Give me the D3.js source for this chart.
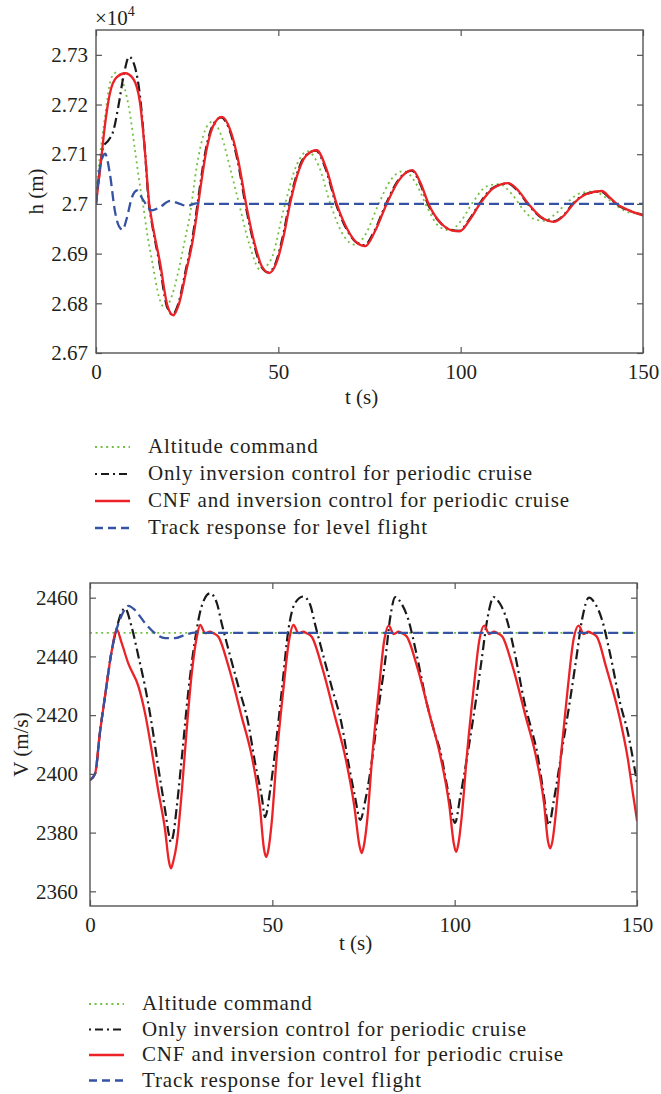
<!DOCTYPE html>
<html>
<head>
<meta charset="utf-8">
<script src="https://cdn.jsdelivr.net/npm/d3@7"></script>
<style>
body { margin: 0; background: #fff; }
svg text { font-family: "Liberation Serif", "Times New Roman", serif; fill: #231f20; }
</style>
</head>
<body>
<svg id="chart" width="661" height="1094"></svg>
<script>
// legend entries (same order in both panels)
var seriesNames = [
  "Altitude command",
  "Only inversion control for periodic cruise",
  "CNF and inversion control for periodic cruise",
  "Track response for level flight"
];

var tTicks = [0, 50, 100, 150];
var hTicks = [26700, 26800, 26900, 27000, 27100, 27200, 27300];
var vTicks = [2360, 2380, 2400, 2420, 2440, 2460];

// ---- h (m) panel: [t, h]
var hCommand = [[0,27030],[2,27150],[4.3,27255],[5.7,27265],[7.5,27242],[9.3,27182],[10.7,27108],[12.1,27034],
  [13,26994],[13.9,26947],[15.5,26880],[17.3,26812],[18.7,26792],[20.3,26805],[22.5,26862],[24.3,26925],[25.8,26980],
  [27.6,27074],[29.9,27148],[31.8,27165],[34.5,27135],[36.7,27074],[39,27007],[42,26920],[45,26868],[48,26888],
  [51.5,26990],[55,27078],[58,27106],[61,27078],[64.5,26995],[68,26935],[71,26918],[74,26940],[77.5,27000],
  [81,27050],[84.3,27066],[88,27038],[91,26990],[94,26955],[97,26947],[100,26965],[103.5,27005],[107,27035],
  [110.5,27040],[114,27020],[117,26990],[120,26970],[123,26966],[126,26980],[129.5,27005],[133,27022],
  [136.5,27025],[140,27012],[143,26995],[146.5,26982],[150,26980]];

var hInversion = [[0,27000],[1,27065],[2,27115],[3.4,27128],[4.8,27148],[6.1,27195],[7.5,27255],[9.1,27296],
  [10.7,27275],[12.1,27215],[13.4,27108],[14.5,27000],[15.2,26967],[17.4,26880],[19.4,26795],[21,26777],
  [22.6,26800],[24.7,26870],[26,26913],[27.2,26967],[28.6,27040],[30,27105],[32,27158],[34.3,27174],[36.5,27151],
  [38.8,27088],[41.1,26994],[43.3,26920],[45.3,26874],[47.3,26862],[49.3,26882],[51.3,26937],[53,27000],
  [55,27058],[57.4,27097],[60.3,27107],[63,27070],[65.8,27000],[68.8,26948],[71.3,26923],[73.6,26917],
  [76.3,26945],[79.5,27000],[82.8,27047],[86.6,27067],[88.8,27042],[91,27000],[94.3,26963],[97.3,26948],
  [99.6,26946],[102.3,26968],[105.1,27000],[108.8,27032],[112.9,27041],[115.8,27025],[118.4,27000],
  [121.8,26974],[125.4,26965],[128.3,26978],[130.7,27000],[134.3,27020],[138.5,27025],[140.8,27012],
  [142.6,27000],[146.3,26986],[150,26978]];

var hCnf = [[0,27000],[1.1,27068],[2.5,27161],[3.8,27222],[5.7,27255],[8,27263],[10.2,27252],[12.1,27202],
  [13.4,27108],[14.6,27000],[15.3,26967],[17.6,26880],[19.6,26795],[21.2,26776],[22.8,26800],[24.9,26870],
  [26.2,26913],[27.4,26967],[28.8,27040],[30.2,27105],[32.2,27158],[34.5,27175],[36.7,27151],[39,27088],
  [41.3,26994],[43.5,26920],[45.5,26874],[47.5,26861],[49.5,26882],[51.5,26937],[53.2,27000],[55.2,27058],
  [57.6,27097],[60.5,27108],[63.2,27070],[66,27000],[69,26948],[71.5,26922],[73.8,26915],[76.5,26945],
  [79.7,27000],[83,27047],[86.8,27068],[89,27042],[91.2,27000],[94.5,26962],[97.5,26947],[99.8,26945],
  [102.5,26968],[105.3,27000],[109,27032],[113.1,27042],[116,27025],[118.6,27000],[122,26974],[125.6,26964],
  [128.5,26978],[130.9,27000],[134.5,27020],[138.7,27026],[141,27012],[142.8,27000],[146.5,26986],[150,26977]];

var hLevel = [[0,27000],[1.1,27074],[2.5,27101],[3.8,27061],[5.2,26985],[6.3,26955],[7.3,26948],[8.4,26970],
  [9.8,27012],[11.2,27027],[13,27007],[15.3,26987],[17.6,26994],[20.3,27006],[23,27000],[24.9,26996],
  [27.6,27001],[30,27000],[150,27000]];

// ---- V (m/s) panel: [t, V]
var vCommand = [[0,2448],[150,2448]];

var vInversion = [[0,2397.9],[1.4,2400.1],[2.7,2413.8],[4.1,2426.3],[6,2442.2],[7.3,2449.5],[8.7,2455.2],
  [9.6,2456.4],[11.4,2450.1],[13.3,2439.9],[15.1,2429.7],[16.9,2417.2],[18.7,2402.4],[20.6,2387.6],
  [21.6,2379.5],[22.2,2376.8],[22.8,2379],[23.8,2388.8],[25.2,2405.8],[27,2428.5],[28.8,2445.6],[30.6,2457],
  [32.9,2461.5],[34.8,2458.1],[36.1,2451.3],[38,2442.2],[40.7,2429.7],[43.4,2417.2],[45.3,2403.5],
  [47.1,2392.2],[48,2385.3],[49.4,2394.4],[50.8,2408.1],[52.6,2428.5],[54.4,2449],[56.2,2458.1],[58.5,2460.4],
  [60.4,2457.5],[61.7,2451],[63.6,2442],[66.3,2429.5],[69,2417],[70.9,2403.5],[72.7,2392],[74.1,2384.3],
  [75.5,2391],[77.7,2408],[79.3,2424],[80.9,2438],[82.3,2453],[83.7,2460.2],[85.4,2458],[87.3,2452.5],
  [89.5,2441],[92.4,2423.8],[94.5,2414],[96,2408],[98.2,2394],[100.1,2383.3],[101.5,2392],[103.7,2408],
  [105.7,2424],[107.3,2438],[109,2453],[110.7,2460.2],[112.4,2458],[114.3,2452.5],[116.5,2441],[119.2,2424],
  [121.3,2414],[122.5,2408],[124.3,2394],[125.8,2382.5],[127.2,2391],[129.4,2408],[131.5,2424],[133.2,2438],
  [135,2453],[136.8,2460],[138.5,2458],[140.4,2452.5],[142.6,2441],[145.4,2424],[147.5,2414],[150,2397]];

var vCnf = [[0,2397.9],[1.4,2400.1],[2.7,2413.8],[4.1,2426.3],[6,2442.2],[7.3,2449.2],[8.7,2444.5],
  [10.5,2437.6],[13.3,2429.7],[15.1,2420.6],[16.9,2408.1],[18.7,2394.4],[20.6,2380.8],[21.6,2370.5],
  [22.2,2367.8],[22.8,2370],[23.8,2376.3],[25.2,2394.4],[26.5,2414.9],[27.9,2434.2],[29.3,2446.7],
  [30.2,2450.7],[31.6,2447.9],[32.9,2448.4],[33.8,2447.9],[35.2,2446.7],[38,2436.5],[41.6,2419.4],
  [44.4,2405.8],[46.6,2388.8],[47.7,2374.5],[48.3,2371.7],[48.9,2374],[49.8,2383.1],[51.2,2405.8],[53,2428.5],
  [54.6,2445.6],[55.8,2450.7],[57.2,2447.9],[58.5,2448.4],[59.4,2447.9],[60.8,2446.7],[63.6,2436.5],
  [67.2,2419.4],[70,2405.8],[72.5,2388.8],[73.9,2375.5],[74.5,2373],[75.1,2375.5],[76,2384],[77.4,2406],
  [79.2,2428.5],[80.7,2445.6],[81.9,2450.5],[83.3,2447.6],[84.6,2448.4],[85.5,2447.9],[86.9,2446.7],
  [89.7,2436.5],[93.3,2419.4],[96,2406.5],[98.5,2389.5],[99.8,2376],[100.4,2373.4],[101,2376],[101.9,2385],
  [103.4,2407],[105.2,2429],[106.8,2445.8],[108.1,2450.5],[109.5,2447.6],[110.8,2448.4],[111.7,2447.9],
  [113.1,2446.7],[115.9,2436.5],[119.5,2419.4],[122.2,2406.5],[124.5,2390],[125.6,2377],[126.2,2374.6],
  [126.8,2377],[127.7,2386],[129.2,2407],[131,2429],[132.6,2445.8],[134,2450.5],[135.4,2447.6],[136.7,2448.4],
  [137.6,2447.9],[139,2446.7],[141.5,2436.5],[145.2,2419.4],[147.5,2405],[148.8,2394],[150,2384.2]];

var vLevel = [[0,2397.9],[1.4,2400.1],[2.7,2413.8],[4.1,2426.3],[6,2442.2],[7.3,2449.2],[8.7,2454],
  [10.5,2457.2],[12.3,2455.8],[15.1,2451.3],[17.8,2447.9],[20.6,2446.2],[23.3,2446.2],[26,2447.3],
  [28.8,2448.1],[32,2448],[150,2448]];

// line styles, matlab-ish
var styles = [
  {color: "#74c043", width: 1.8, dash: "2,3.6", cap: "butt"},
  {color: "#1a1a1a", width: 2.2, dash: "10,4,2,4", cap: "butt"},
  {color: "#ec2227", width: 2.3, dash: null, cap: "round"},
  {color: "#3653a3", width: 2.3, dash: "10,5", cap: "butt"}
];

var svg = d3.select("#chart");
var axisColor = "#555";
var fs = 21;

function panel(cfg) {
  var x = d3.scaleLinear().domain([0, 150]).range([cfg.left, cfg.right]);
  var y = d3.scaleLinear().domain(cfg.yDomain).range([cfg.bottom, cfg.top]);
  var g = svg.append("g");

  var clipId = "clip" + cfg.id;
  g.append("clipPath").attr("id", clipId).append("rect")
    .attr("x", cfg.left).attr("y", cfg.top)
    .attr("width", cfg.right - cfg.left).attr("height", cfg.bottom - cfg.top);

  var line = d3.line()
    .x(d => x(d[0]))
    .y(d => y(d[1]))
    .curve(d3.curveMonotoneX);

  var lines = g.append("g").attr("clip-path", "url(#" + clipId + ")");
  cfg.series.forEach(function(s, i) {
    var st = styles[i];
    lines.append("path")
      .datum(s)
      .attr("d", line)
      .attr("fill", "none")
      .attr("stroke", st.color)
      .attr("stroke-width", st.width)
      .attr("stroke-linecap", st.cap)
      .attr("stroke-linejoin", "round")
      .attr("stroke-dasharray", st.dash);
  });

  // axes, ticks pointing in, with box
  var bottomAx = g.append("g").attr("transform", "translate(0," + cfg.bottom + ")")
    .call(d3.axisBottom(x).tickValues(tTicks).tickSize(-6).tickPadding(11).tickFormat(d3.format("d")));
  var topAx = g.append("g").attr("transform", "translate(0," + cfg.top + ")")
    .call(d3.axisTop(x).tickValues(tTicks).tickSize(-6).tickFormat(""));
  var leftAx = g.append("g").attr("transform", "translate(" + cfg.left + ",0)")
    .call(d3.axisLeft(y).tickValues(cfg.yTicks).tickSize(-6).tickPadding(cfg.yPad).tickFormat(cfg.yFormat));
  var rightAx = g.append("g").attr("transform", "translate(" + cfg.right + ",0)")
    .call(d3.axisRight(y).tickValues(cfg.yTicks).tickSize(-6).tickFormat(""));

  [bottomAx, topAx, leftAx, rightAx].forEach(function(a) {
    a.select(".domain").remove();
    a.selectAll(".tick line").attr("stroke", axisColor).attr("stroke-width", 1.2);
    a.selectAll("text").attr("font-size", fs).attr("font-family", null).attr("fill", "#231f20");
  });
  g.append("rect")
    .attr("x", cfg.left).attr("y", cfg.top)
    .attr("width", cfg.right - cfg.left).attr("height", cfg.bottom - cfg.top)
    .attr("fill", "none").attr("stroke", axisColor).attr("stroke-width", 1.4);

  g.append("text")
    .attr("x", (cfg.left + cfg.right) / 2 - 8)
    .attr("y", cfg.xLabelY)
    .attr("text-anchor", "middle")
    .attr("font-size", fs)
    .text("t (s)");

  g.append("text")
    .attr("transform", "translate(" + cfg.yLabelX + "," + (cfg.top + cfg.bottom) / 2 + ") rotate(-90)")
    .attr("text-anchor", "middle")
    .attr("font-size", fs)
    .text(cfg.yLabel);

  // legend
  var leg = g.append("g");
  seriesNames.forEach(function(name, i) {
    var st = styles[i];
    var yy = cfg.legendY + i * cfg.legendStep;
    leg.append("line")
      .attr("x1", cfg.legendX).attr("x2", cfg.legendX + 35)
      .attr("y1", yy).attr("y2", yy)
      .attr("stroke", st.color)
      .attr("stroke-width", st.width)
      .attr("stroke-dasharray", i === 1 ? "2,4,8,4" : (i === 3 ? "8,5" : st.dash));
    leg.append("text")
      .attr("x", cfg.legendX + 53)
      .attr("y", yy + 6)
      .attr("font-size", fs)
      .attr("letter-spacing", 0.85)
      .text(name);
  });
  return g;
}

var top1 = panel({
  id: 1, left: 96, right: 643, top: 30, bottom: 353,
  yDomain: [26700, 27350], yTicks: hTicks, yPad: 8,
  yFormat: d => String(+(d / 1e4).toFixed(2)),
  series: [hCommand, hInversion, hCnf, hLevel],
  xLabelY: 404, yLabelX: 43, yLabel: "h (m)",
  legendX: 95, legendY: 447, legendStep: 27
});

// x10^4 multiplier
var mult = top1.append("text").attr("x", 95).attr("y", 25).attr("font-size", fs);
mult.append("tspan").text("\u00d710");
mult.append("tspan").attr("dy", -9).attr("font-size", 14).text("4");

panel({
  id: 2, left: 90, right: 637, top: 583, bottom: 906,
  yDomain: [2355, 2465], yTicks: vTicks, yPad: 12,
  yFormat: d3.format("d"),
  series: [vCommand, vInversion, vCnf, vLevel],
  xLabelY: 950, yLabelX: 28, yLabel: "V (m/s)",
  legendX: 89, legendY: 1004, legendStep: 25.5
});
</script>
</body>
</html>
